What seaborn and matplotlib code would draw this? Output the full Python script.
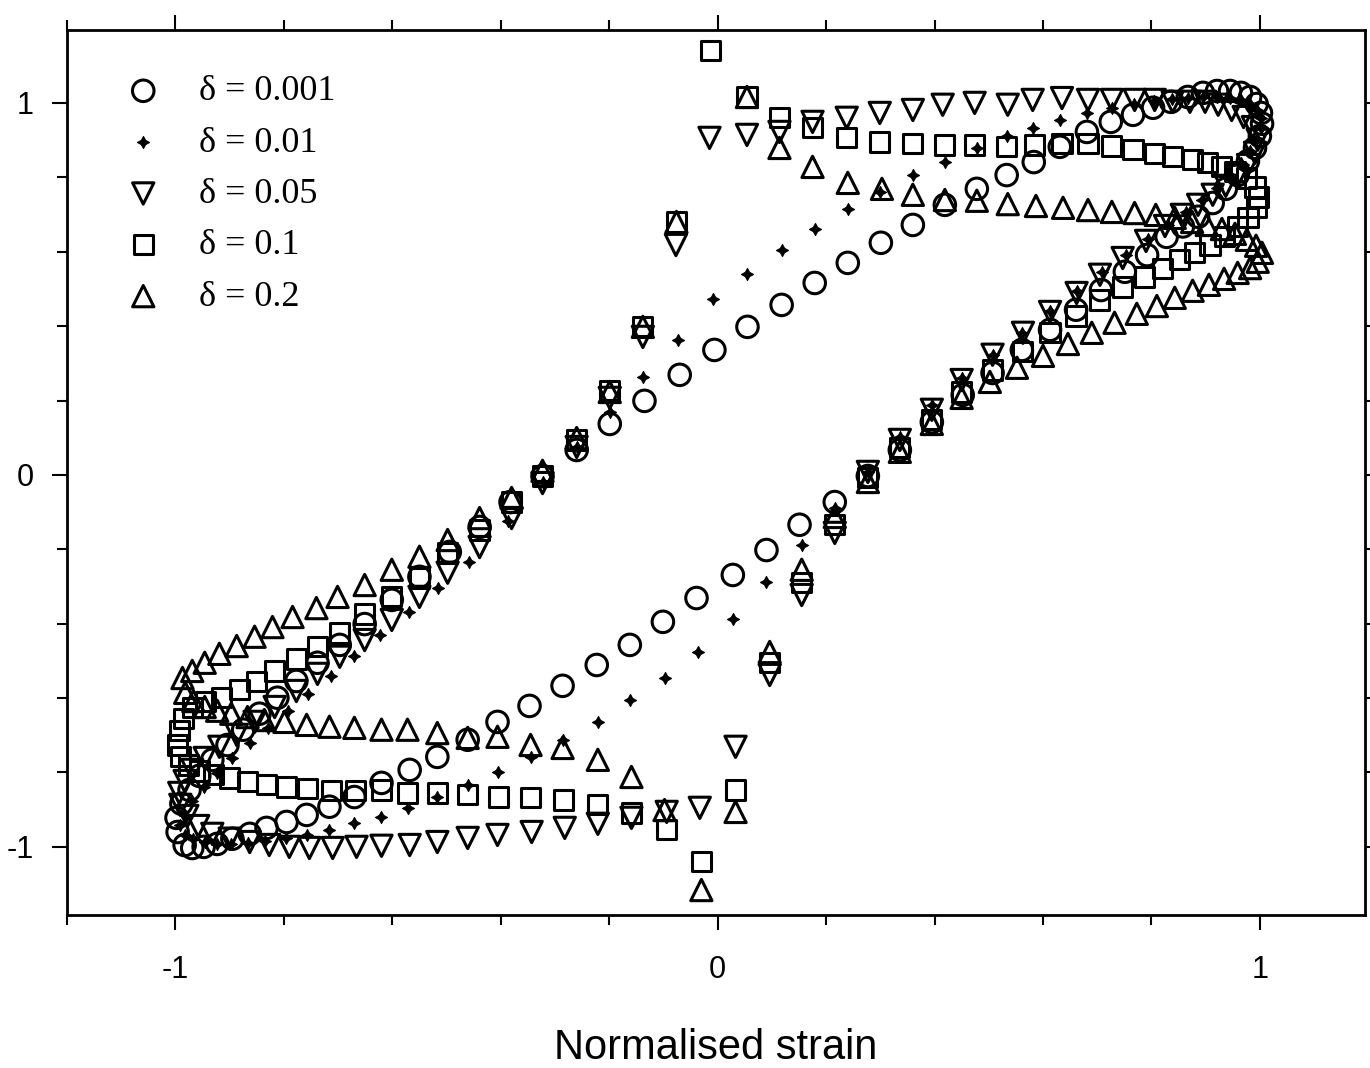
import matplotlib
matplotlib.use("Agg")
import matplotlib.pyplot as plt
import seaborn as sns
from matplotlib.ticker import MultipleLocator

sns.set_style("ticks")
plt.rcParams['font.family'] = ['Liberation Sans', 'DejaVu Sans']
plt.rcParams['axes.unicode_minus'] = False
plt.rcParams['text.color'] = 'black'
plt.rcParams['axes.labelcolor'] = 'black'
plt.rcParams['xtick.color'] = 'black'
plt.rcParams['ytick.color'] = 'black'
plt.rcParams['axes.edgecolor'] = 'black'

labels = ['δ = 0.001', 'δ = 0.01', 'δ = 0.05', 'δ = 0.1', 'δ = 0.2']

# delta = 0.001 (circles)
x_d0001 = [-0.983, -0.996, -0.998, -0.989, -0.974, -0.956, -0.932, -0.904, -0.875, -0.845,
           -0.812, -0.777, -0.738, -0.697, -0.651, -0.601, -0.550, -0.494, -0.439, -0.382,
           -0.323, -0.260, -0.199, -0.135, -0.070, -0.006, 0.055, 0.118, 0.179, 0.240,
           0.301, 0.360, 0.419, 0.478, 0.533, 0.583, 0.631, 0.681, 0.725, 0.766,
           0.803, 0.836, 0.867, 0.895, 0.921, 0.945, 0.965, 0.982, 0.994, 1.002,
           1.004, 1.000, 0.991, 0.978, 0.959, 0.937, 0.913, 0.886, 0.858, 0.828,
           0.792, 0.751, 0.707, 0.661, 0.613, 0.561, 0.507, 0.452, 0.395, 0.336,
           0.277, 0.216, 0.151, 0.090, 0.028, -0.039, -0.101, -0.162, -0.223, -0.286,
           -0.347, -0.406, -0.461, -0.517, -0.568, -0.620, -0.670, -0.716, -0.758, -0.795,
           -0.832, -0.863, -0.895, -0.923, -0.948, -0.969]
y_d0001 = [-0.995, -0.960, -0.922, -0.884, -0.847, -0.809, -0.766, -0.726, -0.685, -0.642,
           -0.599, -0.554, -0.505, -0.457, -0.401, -0.336, -0.274, -0.207, -0.140, -0.073,
           -0.003, 0.067, 0.137, 0.199, 0.269, 0.336, 0.398, 0.457, 0.516, 0.570,
           0.624, 0.672, 0.726, 0.769, 0.806, 0.841, 0.882, 0.922, 0.949, 0.968,
           0.987, 1.003, 1.016, 1.027, 1.032, 1.032, 1.027, 1.016, 0.997, 0.973,
           0.944, 0.911, 0.879, 0.844, 0.806, 0.769, 0.731, 0.694, 0.668, 0.640,
           0.591, 0.546, 0.497, 0.444, 0.390, 0.336, 0.274, 0.215, 0.142, 0.067,
           -0.003, -0.073, -0.134, -0.202, -0.269, -0.331, -0.395, -0.457, -0.511, -0.567,
           -0.621, -0.664, -0.712, -0.758, -0.793, -0.828, -0.866, -0.892, -0.914, -0.933,
           -0.949, -0.965, -0.978, -0.992, -1.000, -1.003]

# delta = 0.01 (small filled stars)
x_d001 = [-0.991, -0.983, -0.969, -0.948, -0.923, -0.895, -0.863, -0.830, -0.793, -0.755,
          -0.714, -0.670, -0.622, -0.570, -0.515, -0.458, -0.386, -0.323, -0.260, -0.199,
          -0.138, -0.074, -0.009, 0.054, 0.118, 0.179, 0.240, 0.299, 0.360, 0.419,
          0.478, 0.533, 0.581, 0.631, 0.681, 0.727, 0.768, 0.804, 0.838, 0.867,
          0.895, 0.921, 0.945, 0.965, 0.982, 0.994, 1.002,
          1.002, 0.994, 0.982, 0.965, 0.945, 0.921, 0.893, 0.863, 0.830, 0.793,
          0.753, 0.708, 0.662, 0.613, 0.561, 0.507, 0.450, 0.395, 0.336, 0.277,
          0.216, 0.155, 0.090, 0.028, -0.037, -0.098, -0.162, -0.221, -0.286, -0.345,
          -0.406, -0.461, -0.517, -0.572, -0.620, -0.670, -0.716, -0.758, -0.797, -0.834,
          -0.867, -0.897, -0.923, -0.946, -0.967, -0.982]
y_d001 = [-0.941, -0.914, -0.876, -0.839, -0.801, -0.761, -0.720, -0.680, -0.634, -0.589,
          -0.540, -0.487, -0.430, -0.368, -0.304, -0.234, -0.125, -0.020, 0.075, 0.169,
          0.263, 0.363, 0.473, 0.540, 0.605, 0.661, 0.715, 0.761, 0.806, 0.841,
          0.879, 0.911, 0.933, 0.954, 0.973, 0.987, 0.997, 1.005, 1.011, 1.013,
          1.016, 1.016, 1.013, 1.008, 0.997, 0.981, 0.960,
          0.933, 0.903, 0.871, 0.839, 0.806, 0.772, 0.739, 0.707, 0.672, 0.634,
          0.591, 0.546, 0.495, 0.441, 0.382, 0.323, 0.261, 0.188, 0.102, 0.008,
          -0.089, -0.188, -0.288, -0.387, -0.476, -0.546, -0.605, -0.664, -0.712, -0.758,
          -0.798, -0.833, -0.866, -0.895, -0.919, -0.935, -0.954, -0.968, -0.976, -0.984,
          -0.989, -0.992, -0.992, -0.987, -0.978, -0.968]

# delta = 0.05 (down triangles)
x_d005 = [-0.993, -0.983, -0.969, -0.946, -0.919, -0.887, -0.854, -0.817, -0.777, -0.738,
          -0.697, -0.651, -0.601, -0.550, -0.498, -0.439, -0.380, -0.323, -0.260, -0.199,
          -0.138, -0.077, -0.015, 0.054, 0.114, 0.175, 0.238, 0.299, 0.360, 0.415,
          0.474, 0.535, 0.581, 0.635, 0.683, 0.727, 0.769, 0.806, 0.839, 0.871,
          0.899, 0.923, 0.948, 0.970, 0.987, 0.996,
          0.991, 0.978, 0.959, 0.937, 0.913, 0.886, 0.856, 0.825, 0.790, 0.747,
          0.705, 0.662, 0.613, 0.563, 0.507, 0.450, 0.395, 0.336, 0.277, 0.216,
          0.155, 0.096, 0.033, -0.033, -0.094, -0.159, -0.221, -0.282, -0.343, -0.406,
          -0.461, -0.517, -0.568, -0.620, -0.666, -0.710, -0.753, -0.790, -0.827, -0.863,
          -0.900, -0.932, -0.958, -0.978, -0.991]
y_d005 = [-0.855, -0.823, -0.793, -0.761, -0.731, -0.699, -0.664, -0.624, -0.581, -0.535,
          -0.489, -0.444, -0.390, -0.328, -0.263, -0.194, -0.116, -0.022, 0.075, 0.207,
          0.371, 0.618, 0.906, 0.914, 0.922, 0.949, 0.960, 0.973, 0.981, 0.995,
          1.000, 0.995, 1.008, 1.013, 1.008, 1.008, 1.008, 1.008, 1.003, 1.003,
          1.003, 0.995, 0.981, 0.962, 0.935, 0.901,
          0.866, 0.833, 0.804, 0.777, 0.753, 0.726, 0.699, 0.669, 0.629, 0.583,
          0.538, 0.489, 0.438, 0.382, 0.323, 0.255, 0.175, 0.094, 0.008, -0.156,
          -0.323, -0.538, -0.731, -0.895, -0.906, -0.922, -0.938, -0.949, -0.960, -0.968,
          -0.976, -0.987, -0.995, -0.997, -1.000, -1.003, -1.003, -1.000, -0.995, -0.987,
          -0.978, -0.965, -0.944, -0.917, -0.887]

# delta = 0.1 (squares)
x_d01 = [-0.993, -0.985, -0.969, -0.945, -0.915, -0.882, -0.851, -0.817, -0.777, -0.738,
         -0.697, -0.651, -0.601, -0.550, -0.498, -0.439, -0.380, -0.323, -0.260, -0.199,
         -0.138, -0.076, -0.013, 0.054, 0.114, 0.175, 0.238, 0.299, 0.360, 0.419,
         0.474, 0.533, 0.585, 0.635, 0.683, 0.727, 0.766, 0.806, 0.839, 0.875,
         0.904, 0.930, 0.954, 0.976, 0.991, 0.998,
         0.993, 0.978, 0.958, 0.934, 0.908, 0.880, 0.852, 0.821, 0.788, 0.747,
         0.705, 0.661, 0.613, 0.563, 0.507, 0.450, 0.395, 0.336, 0.277, 0.216,
         0.155, 0.096, 0.033, -0.030, -0.094, -0.159, -0.221, -0.284, -0.345, -0.404,
         -0.461, -0.517, -0.572, -0.620, -0.668, -0.712, -0.756, -0.795, -0.832, -0.867,
         -0.900, -0.930, -0.956, -0.976, -0.991, -0.996]
y_d01 = [-0.688, -0.656, -0.626, -0.610, -0.599, -0.578, -0.556, -0.527, -0.495, -0.462,
         -0.425, -0.374, -0.328, -0.277, -0.210, -0.148, -0.073, -0.003, 0.094, 0.228,
         0.398, 0.680, 1.142, 1.016, 0.960, 0.935, 0.906, 0.895, 0.892, 0.887,
         0.887, 0.882, 0.887, 0.892, 0.892, 0.884, 0.874, 0.863, 0.855, 0.847,
         0.839, 0.828, 0.815, 0.798, 0.774, 0.747,
         0.718, 0.691, 0.667, 0.642, 0.618, 0.597, 0.578, 0.556, 0.532, 0.505,
         0.470, 0.427, 0.382, 0.331, 0.282, 0.223, 0.148, 0.073, -0.008, -0.134,
         -0.290, -0.505, -0.847, -1.040, -0.954, -0.909, -0.887, -0.874, -0.868, -0.866,
         -0.860, -0.855, -0.855, -0.847, -0.849, -0.849, -0.844, -0.839, -0.833, -0.825,
         -0.815, -0.806, -0.796, -0.780, -0.758, -0.726]

# delta = 0.2 (up triangles)
x_d02 = [-0.987, -0.969, -0.946, -0.919, -0.887, -0.854, -0.821, -0.784, -0.740, -0.701,
         -0.651, -0.601, -0.550, -0.498, -0.439, -0.380, -0.323, -0.260, -0.199, -0.138,
         -0.076, 0.054, 0.114, 0.175, 0.240, 0.303, 0.360, 0.419, 0.478, 0.535,
         0.587, 0.637, 0.683, 0.727, 0.769, 0.808, 0.843, 0.875, 0.902, 0.930,
         0.954, 0.976, 0.993, 1.004,
         0.996, 0.982, 0.959, 0.934, 0.906, 0.876, 0.843, 0.810, 0.773, 0.732,
         0.690, 0.646, 0.600, 0.552, 0.502, 0.450, 0.395, 0.336, 0.277, 0.216,
         0.155, 0.096, 0.033, -0.030, -0.098, -0.159, -0.221, -0.286, -0.345, -0.406,
         -0.461, -0.517, -0.572, -0.620, -0.670, -0.716, -0.758, -0.799, -0.836, -0.867,
         -0.897, -0.923, -0.946, -0.967, -0.982]
y_d02 = [-0.546, -0.527, -0.505, -0.481, -0.460, -0.435, -0.409, -0.382, -0.358, -0.328,
         -0.296, -0.255, -0.220, -0.175, -0.116, -0.062, 0.011, 0.099, 0.223, 0.398,
         0.680, 1.016, 0.879, 0.828, 0.785, 0.769, 0.753, 0.739, 0.737, 0.728,
         0.723, 0.718, 0.712, 0.707, 0.704, 0.699, 0.691, 0.680, 0.672, 0.661,
         0.648, 0.632, 0.616, 0.597,
         0.573, 0.556, 0.543, 0.527, 0.511, 0.495, 0.476, 0.454, 0.433, 0.409,
         0.382, 0.352, 0.320, 0.288, 0.250, 0.207, 0.137, 0.062, -0.019, -0.113,
         -0.255, -0.476, -0.906, -1.116, -0.901, -0.812, -0.766, -0.734, -0.726, -0.704,
         -0.707, -0.694, -0.685, -0.685, -0.680, -0.677, -0.672, -0.664, -0.659, -0.651,
         -0.642, -0.634, -0.624, -0.608, -0.586]

x_ticks = [-1, 0, 1]
x_tick_labels = ['-1', '0', '1']
y_ticks = [-1, 0, 1]
y_tick_labels = ['-1', '0', '1']
x_title = 'Normalised strain'

fig = plt.figure(figsize=(13.7, 10.68), dpi=100)
ax = fig.add_axes([0.0489, 0.1433, 0.9475, 0.8286])

series = [
    (x_d0001, y_d0001, labels[0], 'o', 240, False),
    (x_d001, y_d001, labels[1], (4, 1, 0), 75, True),
    (x_d005, y_d005, labels[2], 'v', 235, False),
    (x_d01, y_d01, labels[3], 's', 190, False),
    (x_d02, y_d02, labels[4], '^', 235, False),
]
for xs, ys, lab, mk, size, filled in series:
    kws = dict(marker=mk, s=size, color='black', edgecolor='black')
    if filled:
        kws['linewidth'] = 0.8
    else:
        kws['facecolors'] = 'none'
        kws['linewidth'] = 2.2
    sns.scatterplot(x=xs, y=ys, ax=ax, label=lab, **kws)

ax.set_xlim(-1.2, 1.194)
ax.set_ylim(-1.183, 1.196)
ax.set_xticks(x_ticks, x_tick_labels)
ax.set_yticks(y_ticks, y_tick_labels)
ax.xaxis.set_minor_locator(MultipleLocator(0.2))
ax.yaxis.set_minor_locator(MultipleLocator(0.2))
ax.tick_params(axis='both', which='major', direction='out', length=11, width=1.5,
               top=True, right=True, labelsize=22, colors='black')
ax.tick_params(axis='x', which='major', pad=18)
ax.tick_params(axis='y', which='major', pad=13)
ax.tick_params(axis='both', which='minor', direction='out', length=7, width=1.5,
               top=True, right=True)
for sp in ax.spines.values():
    sp.set_linewidth(2.0)
    sp.set_color('black')

ax.set_xlabel(x_title, fontsize=30, labelpad=31, color='black')
ax.set_ylabel('')

leg = ax.legend(loc='upper left', bbox_to_anchor=(127 / 1370, 1 - 75 / 1068),
                bbox_transform=fig.transFigure, frameon=False,
                prop={'family': ['Liberation Serif', 'DejaVu Serif'], 'size': 26},
                handlelength=0.9, handletextpad=1.1, labelspacing=0.5,
                borderpad=0, borderaxespad=0, scatterpoints=1)
for t in leg.get_texts():
    t.set_color('black')

fig.savefig('out.png', dpi=100)
